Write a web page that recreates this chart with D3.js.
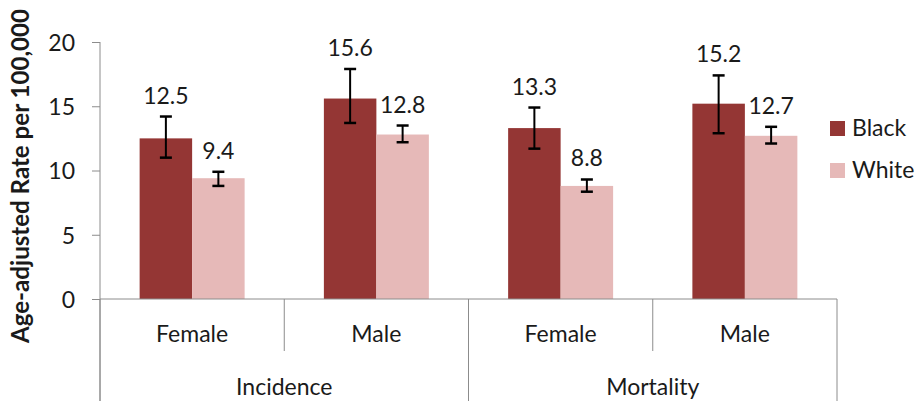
<!DOCTYPE html>
<html><head><meta charset="utf-8">
<script src="https://cdn.jsdelivr.net/npm/d3@7"></script>
<style>body{margin:0;background:#fff}svg{display:block}text{font-family:Lato,"Open Sans",sans-serif;fill:#1a1a1a}</style>
</head><body>
<svg id="chart" width="917" height="401"></svg>
<script>
const categories = ["Female","Male","Female","Male"];
const groups = ["Incidence","Incidence","Mortality","Mortality"];
const groupNames = ["Incidence","Mortality"];
const seriesNames = ["Black","White"];
const blackValues = [12.5, 15.6, 13.3, 15.2];
const whiteValues = [9.4, 12.8, 8.8, 12.7];
const blackLow = [11.0, 13.7, 11.7, 12.9];
const blackHigh = [14.2, 17.9, 14.9, 17.4];
const whiteLow = [8.8, 12.2, 8.35, 12.1];
const whiteHigh = [9.9, 13.5, 9.3, 13.4];
const yTicks = [0, 5, 10, 15, 20];
const colors = {Black: "#943634", White: "#E6B9B8"};

const svg = d3.select("#chart");
const mLeft = 100, mRight = 837, mTop = 42, mBottom = 299;
const y = d3.scaleLinear().domain([0, 20]).range([mBottom, mTop]);
const x = d3.scaleBand().domain(d3.range(categories.length)).range([mLeft, mRight]).paddingInner(0).paddingOuter(0);
const xs = d3.scaleBand().domain(seriesNames).range([0, x.bandwidth()]).paddingInner(0).paddingOuter(0.755);

const rows = categories.map((c, i) => ({i, c, g: groups[i], series: [
  {s: "Black", v: blackValues[i], lo: blackLow[i], hi: blackHigh[i]},
  {s: "White", v: whiteValues[i], lo: whiteLow[i], hi: whiteHigh[i]}]}));

const axisColor = "#8c8c8c";
// y axis
const yAxis = svg.append("g").attr("transform", `translate(${mLeft},0)`)
  .call(d3.axisLeft(y).tickValues(yTicks).tickSize(8).tickPadding(17));
yAxis.select(".domain").remove();
yAxis.selectAll(".tick line").attr("stroke", axisColor);
yAxis.selectAll(".tick text").style("font-size", "23px").style("font-family", "Lato, sans-serif").attr("fill", "#1a1a1a").attr("dy", "0.36em");
svg.append("line").attr("x1", mLeft).attr("x2", mLeft).attr("y1", mTop).attr("y2", 401).attr("stroke", axisColor);

// bars
const cat = svg.selectAll("g.cat").data(rows).join("g").attr("class", "cat")
  .attr("transform", d => `translate(${x(d.i)},0)`);
cat.selectAll("rect").data(d => d.series).join("rect")
  .attr("x", d => xs(d.s)).attr("width", xs.bandwidth())
  .attr("y", d => y(d.v)).attr("height", d => y(0) - y(d.v))
  .attr("fill", d => colors[d.s]);
// error bars
const eb = cat.selectAll("g.eb").data(d => d.series).join("g").attr("class", "eb")
  .attr("transform", d => `translate(${xs(d.s) + xs.bandwidth() / 2},0)`);
eb.append("line").attr("y1", d => y(d.lo)).attr("y2", d => y(d.hi)).attr("stroke", "#000").attr("stroke-width", 2);
eb.append("line").attr("x1", -6).attr("x2", 6).attr("y1", d => y(d.lo)).attr("y2", d => y(d.lo)).attr("stroke", "#000").attr("stroke-width", 2.5);
eb.append("line").attr("x1", -6).attr("x2", 6).attr("y1", d => y(d.hi)).attr("y2", d => y(d.hi)).attr("stroke", "#000").attr("stroke-width", 2.5);
eb.append("text").attr("text-anchor", "middle").attr("y", d => y(d.hi) - 13)
  .style("font-size", "23px").text(d => d.v.toFixed(1));

// x axis
svg.append("line").attr("x1", mLeft).attr("x2", mRight).attr("y1", mBottom).attr("y2", mBottom).attr("stroke", axisColor);
const bounds = d3.range(categories.length + 1).map(i => i < categories.length ? x(i) : mRight);
svg.selectAll("line.sep").data(bounds).join("line").attr("class", "sep")
  .attr("x1", d => d).attr("x2", d => d).attr("y1", mBottom)
  .attr("y2", (d, i) => (i % 2 === 0 ? 401 : 351)).attr("stroke", axisColor);
svg.selectAll("text.cat").data(rows).join("text").attr("class", "cat")
  .attr("x", d => x(d.i) + x.bandwidth() / 2).attr("y", 342).attr("text-anchor", "middle")
  .style("font-size", "23px").text(d => d.c);
svg.selectAll("text.grp").data(groupNames).join("text").attr("class", "grp")
  .attr("x", g => { const idx = groups.map((v, i) => v === g ? i : -1).filter(i => i >= 0); return (x(idx[0]) + x(idx[idx.length - 1]) + x.bandwidth()) / 2; })
  .attr("y", 395).attr("text-anchor", "middle").style("font-size", "23px").text(g => g);

// axis title
svg.append("text").attr("transform", `translate(29,176) rotate(-90)`)
  .attr("text-anchor", "middle").style("font-size", "24px").style("font-weight", "bold")
  .attr("textLength", 334).attr("lengthAdjust", "spacingAndGlyphs")
  .text("Age-adjusted Rate per 100,000");

// legend
const lg = svg.selectAll("g.lg").data(seriesNames).join("g").attr("class", "lg")
  .attr("transform", (d, i) => `translate(830,${121 + i * 42})`);
lg.append("rect").attr("width", 15).attr("height", 15).attr("fill", d => colors[d]);
lg.append("text").attr("x", 22).attr("y", 15).style("font-size", "23px").text(d => d);
</script>
</body></html>
